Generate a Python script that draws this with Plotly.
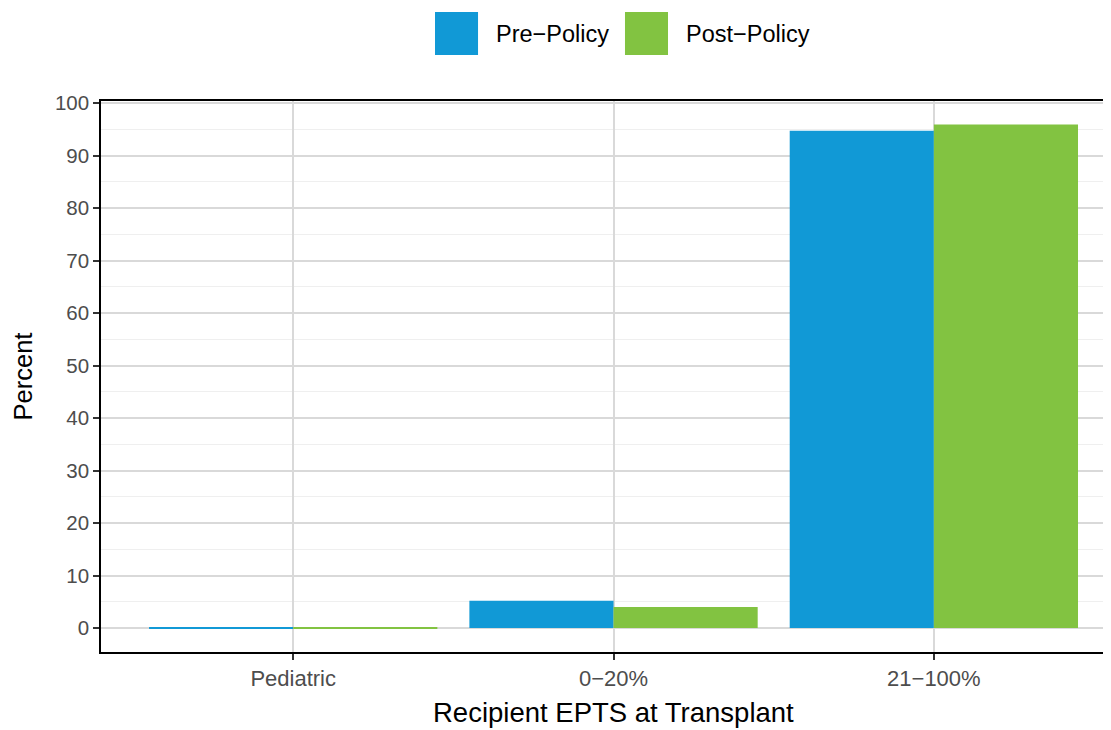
import plotly.graph_objects as go

categories = ["Pediatric", "0\u221220%", "21\u2212100%"]
pre_policy = [0.1, 5.2, 94.7]
post_policy = [0.1, 4.0, 95.9]
series_names = ["Pre\u2212Policy", "Post\u2212Policy"]
colors = ["#1199D6", "#82C341"]
x_title = "Recipient EPTS at Transplant"
y_title = "Percent"

FONT = "Liberation Sans, Arial, sans-serif"

fig = go.Figure()
for name, vals, col in zip(series_names, [pre_policy, post_policy], colors):
    fig.add_trace(go.Bar(x=categories, y=vals, name=name,
                         marker=dict(color=col, line=dict(width=0)), showlegend=False))

# custom legend with large square keys (paper coordinates)
key_x0 = [0.3307, 0.5188]
key_w = 0.0426
for i, (name, col) in enumerate(zip(series_names, colors)):
    fig.add_shape(type="rect", xref="paper", yref="paper",
                  x0=key_x0[i], x1=key_x0[i] + key_w, y0=1.0835, y1=1.1615,
                  fillcolor=col, line=dict(width=0))
    fig.add_annotation(xref="paper", yref="paper", x=key_x0[i] + key_w + 0.0158, y=1.1216,
                       text=name, showarrow=False, xanchor="left", yanchor="middle",
                       font=dict(size=23.5, color="#000000", family=FONT))

# x axis title centred on the full (partly clipped) panel
fig.add_annotation(xref="paper", yref="paper", x=0.507, y=-0.1107, text=x_title,
                   showarrow=False, xanchor="center", yanchor="middle",
                   font=dict(size=27.5, color="black", family=FONT))

fig.update_layout(
    width=1103, height=722,
    margin=dict(l=93, r=0, t=93, b=78),
    paper_bgcolor="white", plot_bgcolor="white",
    barmode="group", bargap=0.1, bargroupgap=0,
    font=dict(family=FONT),
    showlegend=False,
)
fig.update_xaxes(
    range=[-0.6, 2.553],
    showline=True, linecolor="black", linewidth=1.5, mirror=True,
    showgrid=True, gridcolor="#d9d9d9", gridwidth=2,
    ticks="outside", ticklen=6, tickcolor="#333333", tickwidth=1.5,
    tickfont=dict(size=22, color="#4d4d4d"),
)
fig.update_yaxes(
    range=[-4.57, 100.38],
    tick0=0, dtick=10,
    showline=True, linecolor="black", linewidth=1.5,
    showgrid=True, gridcolor="#d9d9d9", gridwidth=2,
    zeroline=False,
    minor=dict(dtick=5, tick0=0, showgrid=True, gridcolor="#efefef", gridwidth=1, ticks=""),
    ticks="outside", ticklen=6, tickcolor="#333333", tickwidth=1.5,
    tickfont=dict(size=20.5, color="#4d4d4d"),
    title=dict(text=y_title, font=dict(size=25.5, color="black"), standoff=15),
)

fig.write_html("out.html")
